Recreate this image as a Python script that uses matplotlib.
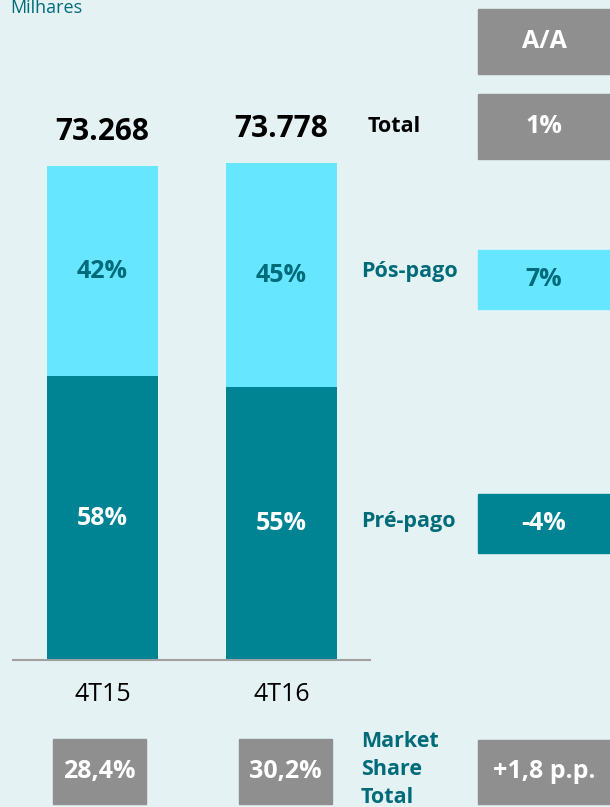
import matplotlib
matplotlib.use("Agg")
import matplotlib.pyplot as plt
from matplotlib.patches import Rectangle

plt.rcParams['font.family'] = ['Open Sans', 'DejaVu Sans']

# data (milhares)
periodos = ['4T15', '4T16']
pre_pago = [42130, 40500]
pos_pago = [31138, 33278]
totais = ['73.268', '73.778']
pos_pct = ['42%', '45%']
pre_pct = ['58%', '55%']
market_share = ['28,4%', '30,2%']
var_total = '1%'
var_pos = '7%'
var_pre = '-4%'
var_share = '+1,8 p.p.'

BG = '#E4F2F4'
DARK = '#008494'
LIGHT = '#66E6FF'
GRAY = '#8F8F8F'
TEAL = '#006B79'

W, H = 610, 807
fig = plt.figure(figsize=(W / 100, H / 100), dpi=100, facecolor=BG)


def fx(x):
    return x / W


def fy(y):
    return 1 - y / H


def box(x0, y0, x1, y1, color, text, tcolor='white', size=18):
    fig.patches.append(Rectangle((fx(x0), fy(y1)), fx(x1 - x0), (y1 - y0) / H,
                                 transform=fig.transFigure, color=color, zorder=1))
    fig.text(fx((x0 + x1) / 2), fy((y0 + y1) / 2), text, ha='center', va='center',
             color=tcolor, fontsize=size, fontweight='bold', zorder=2)


# main bars
ax = fig.add_axes([fx(13), fy(660), fx(357), 497 / H])
ax.set_facecolor('none')
x = [0, 1]
tot = [a + b for a, b in zip(pre_pago, pos_pago)]
ax.bar(x, pre_pago, width=0.62, color=DARK)
ax.bar(x, pos_pago, width=0.62, bottom=pre_pago, color=LIGHT)
ax.set_xlim(-0.5, 1.494)
ax.set_ylim(0, max(tot))
for s in ['top', 'left', 'right']:
    ax.spines[s].set_visible(False)
ax.spines['bottom'].set_color('#A0A0A0')
ax.spines['bottom'].set_linewidth(1.5)
ax.set_yticks([])
ax.set_xticks(x, periodos)
ax.tick_params(axis='x', length=0, pad=16, labelsize=18)

for i in x:
    ax.annotate(totais[i], (i, tot[i]), xytext=(0, 19), textcoords='offset points',
                ha='center', va='baseline', fontsize=21.5, fontweight='bold',
                color='black', annotation_clip=False)
    ax.text(i, pre_pago[i] + pos_pago[i] / 2, pos_pct[i], ha='center', va='center',
            fontsize=18, fontweight='bold', color=TEAL)
    ax.text(i, pre_pago[i] / 2, pre_pct[i], ha='center', va='center',
            fontsize=18, fontweight='bold', color='white')

# top-left unit
fig.text(fx(10), fy(13), 'Milhares', ha='left', va='baseline', fontsize=13, color=TEAL)

# right side labels
fig.text(fx(368), fy(126), 'Total', ha='left', va='center', fontsize=15.5,
         fontweight='bold', color='black')
fig.text(fx(361), fy(271), 'Pós-pago', ha='left', va='center', fontsize=15.5,
         fontweight='bold', color=TEAL)
fig.text(fx(361), fy(522), 'Pré-pago', ha='left', va='center', fontsize=15.5,
         fontweight='bold', color=TEAL)
for k, line in enumerate(['Market', 'Share', 'Total']):
    fig.text(fx(361), fy(747 + 28 * k), line, ha='left', va='baseline',
             fontsize=15.5, fontweight='bold', color=TEAL)

# variation boxes
box(478, 9, 610, 74, GRAY, 'A/A')
box(478, 94, 610, 159, GRAY, var_total)
box(478, 250, 610, 309, LIGHT, var_pos, TEAL)
box(478, 494, 610, 553, DARK, var_pre)
box(478, 740, 610, 804, GRAY, var_share)

# market share boxes
box(53, 739, 146, 804, GRAY, market_share[0])
box(239, 739, 332, 804, GRAY, market_share[1])

fig.savefig('out.png', dpi=100, facecolor=BG)
